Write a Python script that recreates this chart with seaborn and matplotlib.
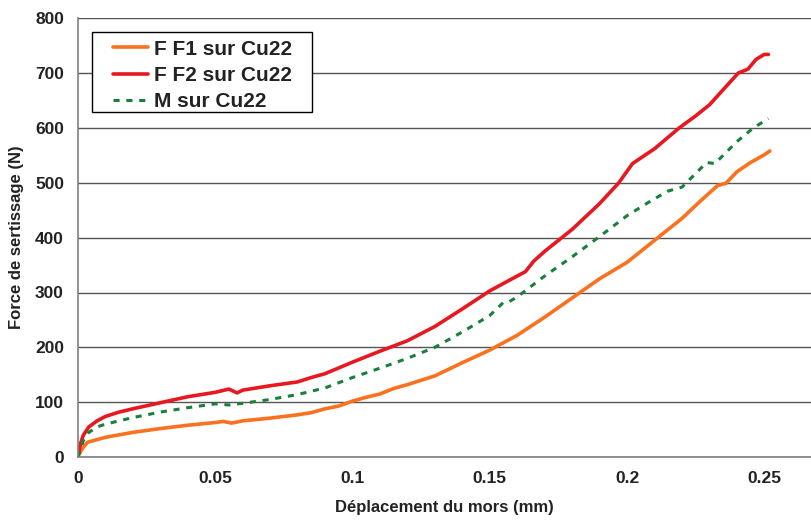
import pandas as pd
import numpy as np
from matplotlib import pyplot as plt
from matplotlib.patches import Rectangle
import seaborn as sns

# values
x_f1 = [0, 0.001, 0.002, 0.0035, 0.01, 0.02, 0.03, 0.04, 0.05, 0.053, 0.056, 0.06,
        0.07, 0.08, 0.085, 0.09, 0.095, 0.1, 0.105, 0.11, 0.115, 0.12, 0.125, 0.13,
        0.135, 0.14, 0.15, 0.16, 0.17, 0.18, 0.19, 0.2, 0.21, 0.22, 0.227, 0.233,
        0.236, 0.24, 0.245, 0.25, 0.252]
y_f1 = [0, 10, 18, 27, 36, 45, 52, 58, 63, 65, 62, 66,
        71, 77, 81, 88, 93, 102, 109, 115, 125, 132, 140, 148,
        160, 172, 195, 222, 255, 290, 325, 355, 395, 435, 468, 495,
        499, 520, 537, 551, 558]

x_f2 = [0, 0.001, 0.002, 0.004, 0.007, 0.01, 0.015, 0.02, 0.03, 0.04, 0.05, 0.055,
        0.058, 0.06, 0.07, 0.08, 0.085, 0.09, 0.1, 0.11, 0.12, 0.13, 0.14, 0.15,
        0.16, 0.163, 0.166, 0.17, 0.18, 0.19, 0.197, 0.202, 0.21, 0.219, 0.225,
        0.23, 0.2405, 0.244, 0.247, 0.25, 0.2515]
y_f2 = [0, 25, 40, 55, 66, 74, 82, 88, 99, 110, 118, 124,
        117, 122, 130, 137, 145, 152, 173, 193, 212, 238, 270, 303,
        330, 338, 357, 375, 415, 462, 500, 535, 562, 600, 622,
        642, 700, 707, 725, 734, 734]

x_m = [0, 0.001, 0.002, 0.004, 0.007, 0.01, 0.02, 0.03, 0.04, 0.05, 0.055, 0.06,
       0.07, 0.08, 0.09, 0.1, 0.11, 0.12, 0.13, 0.14, 0.15, 0.155, 0.157, 0.16,
       0.17, 0.18, 0.19, 0.2, 0.209, 0.215, 0.22, 0.229, 0.232, 0.24, 0.246, 0.2515]
y_m = [0, 15, 30, 45, 55, 60, 72, 82, 90, 97, 95, 98,
       105, 114, 126, 145, 162, 180, 200, 228, 258, 282, 283, 292,
       330, 365, 402, 440, 468, 485, 492, 537, 535, 575, 600, 617]

labels = ['F F1 sur Cu22', 'F F2 sur Cu22', 'M sur Cu22']
colors = ['#FA7120', '#E81820', '#1B7F3C']

sns.set_style('white')
plt.rcParams['font.family'] = ['Liberation Sans', 'DejaVu Sans']
plt.rcParams['font.weight'] = 'bold'

fig = plt.figure(figsize=(8.11, 5.20), dpi=100)
ax = fig.add_axes([0.096, 0.121, 0.904, 0.844])

sns.lineplot(x=x_f1, y=y_f1, ax=ax, color=colors[0], lw=2.6, sort=False,
             label=labels[0])
sns.lineplot(x=x_f2, y=y_f2, ax=ax, color=colors[1], lw=2.6, sort=False,
             label=labels[1])
sns.lineplot(x=x_m, y=y_m, ax=ax, color=colors[2], lw=2.2, sort=False,
             label=labels[2], linestyle=(0, (2, 2.2)))

ax.set_xlim(0, 0.267)
ax.set_ylim(0, 800)
ax.set_xticks([0, 0.05, 0.1, 0.15, 0.2, 0.25])
ax.set_xticklabels(['0', '0.05', '0.1', '0.15', '0.2', '0.25'])
ax.set_yticks(range(0, 801, 100))

ax.yaxis.grid(True, color='#555555', lw=1)
ax.set_axisbelow(True)
for s in ['top', 'right']:
    ax.spines[s].set_visible(False)
for s in ['left', 'bottom']:
    ax.spines[s].set_color('#808080')
    ax.spines[s].set_linewidth(1.2)

ax.tick_params(axis='both', direction='out', length=5, width=1, color='#808080',
               labelsize=12.5, pad=5)
for lab in ax.get_xticklabels() + ax.get_yticklabels():
    lab.set_fontweight('bold')
    lab.set_color('#222222')

ax.set_xlabel('Déplacement du mors (mm)', fontsize=12, fontweight='bold',
              color='#222222', labelpad=10)
ax.set_ylabel('Force de sertissage (N)', fontsize=12, fontweight='bold',
              color='#222222', labelpad=8)

# legend box drawn as its own rectangle, entries without frame
box = Rectangle((0.019, 0.786), 0.300, 0.182, transform=ax.transAxes,
                facecolor='white', edgecolor='black', lw=1, zorder=4)
ax.add_patch(box)
leg = ax.legend(loc='upper left', bbox_to_anchor=(0.048, 0.951), frameon=False,
                fontsize=15, handlelength=1.7, borderpad=0, borderaxespad=0,
                labelspacing=0.35, handletextpad=0.25)
leg.set_zorder(5)
for t in leg.get_texts():
    t.set_fontweight('bold')
    t.set_color('#222222')

plt.savefig('out.png', dpi=100)
